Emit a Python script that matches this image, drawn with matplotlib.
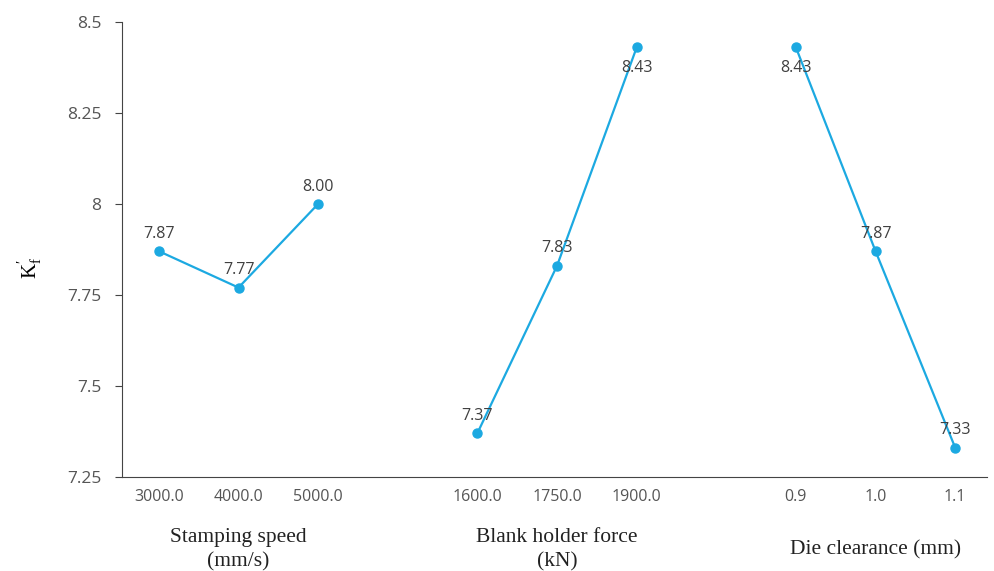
import numpy as np
import matplotlib.pyplot as plt

# factor levels and mean K_f' values
speed_levels = ["3000.0", "4000.0", "5000.0"]
speed_vals = [7.87, 7.77, 8.00]
force_levels = ["1600.0", "1750.0", "1900.0"]
force_vals = [7.37, 7.83, 8.43]
clear_levels = ["0.9", "1.0", "1.1"]
clear_vals = [8.43, 7.87, 7.33]
group_names = ["Stamping speed\n(mm/s)", "Blank holder force\n(kN)", "Die clearance (mm)"]
yticks = [7.25, 7.5, 7.75, 8, 8.25, 8.5]
ytick_labels = ["7.25", "7.5", "7.75", "8", "8.25", "8.5"]

color = "#1ca9e1"
tick_font = "Open Sans"

fig = plt.figure(figsize=(9.94, 5.71), dpi=100)
ax = fig.add_axes([0.123, 0.165, 0.87, 0.7965])

groups = [(speed_levels, speed_vals), (force_levels, force_vals), (clear_levels, clear_vals)]
xticks, xlabels = [], []
for g, (levels, vals) in enumerate(groups):
    x = np.arange(len(levels)) + g * 4
    ax.plot(x, vals, color=color, lw=1.6, marker="o", ms=6.5, zorder=3)
    for xi, v in zip(x, vals):
        below = v > 8.3
        ax.annotate("%.2f" % v, (xi, v), xytext=(0, -15 if below else 12.5),
                    textcoords="offset points", ha="center",
                    va="center", fontsize=11.5, color="#404040", family=tick_font)
    xticks.extend(x)
    xlabels.extend(levels)
    ax.text(x[1], -0.16, group_names[g],
            transform=ax.get_xaxis_transform(), ha="center", va="center",
            fontsize=15.5, family="Liberation Serif", color="#222222",
            linespacing=1.4)

ax.set_xticks(xticks)
ax.set_xticklabels(xlabels, family=tick_font, fontsize=11.5, color="#555555")
ax.tick_params(axis="x", length=0, pad=9)
ax.set_yticks(yticks)
ax.set_yticklabels(ytick_labels, family=tick_font, fontsize=12.5, color="#555555")
ax.tick_params(axis="y", length=5, color="#444444", pad=10)
ax.set_xlim(-0.46, 10.4)
ax.set_ylim(7.25, 8.5)
ax.spines["top"].set_visible(False)
ax.spines["right"].set_visible(False)
ax.spines["left"].set_color("#444444")
ax.spines["bottom"].set_color("#444444")
ax.set_ylabel(r"$\mathregular{K_f^{\prime}}$", fontsize=15, family="Liberation Serif")
ax.yaxis.set_label_coords(-0.09, 0.46)

fig.savefig("out.png", dpi=100)
